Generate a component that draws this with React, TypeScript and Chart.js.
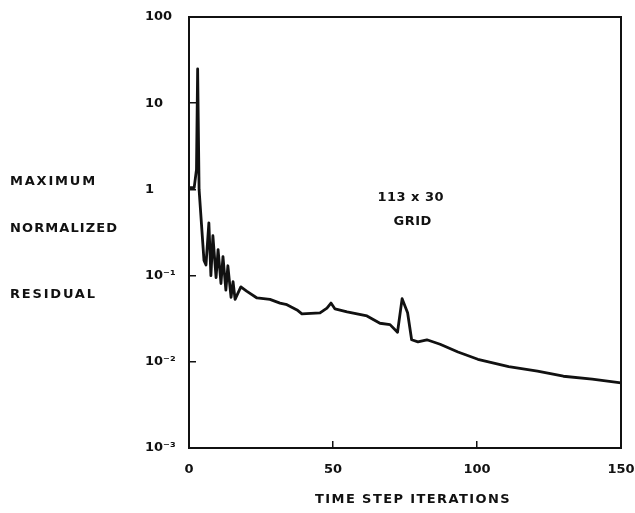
import React, { useEffect, useRef } from "react";
import { Chart, registerables } from "chart.js";

Chart.register(...registerables);

// ---- data ----
const iterations = [
  0, 1.8, 2.6, 3.0, 3.5, 5.2, 5.9, 6.9, 7.6, 8.3, 9.4, 10.1, 11.1, 11.8, 12.8,
  13.5, 14.6, 15.3, 16.0, 18.0, 20.0, 23.6, 28.1, 31.6, 34.0, 37.5, 39.2, 45.5,
  47.9, 49.3, 50.7, 54.9, 61.8, 66.3, 69.8, 72.4, 74.0, 75.9, 77.3, 79.5, 82.6,
  87.2, 93.4, 100.3, 111, 121, 130, 140, 150,
];
const residuals = [
  1.05, 1.05, 1.7, 25, 1.0, 0.15, 0.133, 0.41, 0.1, 0.29, 0.095, 0.2, 0.081,
  0.166, 0.068, 0.13, 0.056, 0.085, 0.053, 0.074, 0.066, 0.055, 0.053, 0.048,
  0.046, 0.04, 0.036, 0.037, 0.042, 0.048, 0.041, 0.038, 0.034, 0.028, 0.027,
  0.022, 0.054, 0.037, 0.018, 0.017, 0.018, 0.016, 0.013, 0.0107, 0.0088,
  0.0078, 0.0068, 0.0063, 0.0057,
];
const xTicks = [0, 50, 100, 150];
const yTicks = [0.001, 0.01, 0.1, 1, 10, 100];
const yTickLabels = ["10⁻³", "10⁻²", "10⁻¹", "1", "10", "100"];
const yTitleLines = ["MAXIMUM", "NORMALIZED", "RESIDUAL"];
const xTitle = "TIME STEP ITERATIONS";
const noteLines = ["113 x 30", "GRID"];

const INK = "#111111";
const FONT = '"DejaVu Sans", "Liberation Sans", sans-serif';

const framePlugin = {
  id: "frameAndTexts",
  afterDraw(chart: any) {
    const { ctx, chartArea: a } = chart;
    ctx.save();
    ctx.strokeStyle = INK;
    ctx.lineWidth = 2;
    ctx.strokeRect(a.left, a.top, a.right - a.left, a.bottom - a.top);

    ctx.fillStyle = INK;
    ctx.font = `bold 13px ${FONT}`;
    ctx.textBaseline = "middle";

    // y title block (horizontal, left side)
    ctx.textAlign = "left";
    const yOffsets = [165, 212, 278];
    const spacings = ["1.8px", "1.1px", "1.8px"];
    yTitleLines.forEach((t, i) => {
      (ctx as any).letterSpacing = spacings[i];
      ctx.fillText(t, 10, a.top + yOffsets[i]);
    });

    // x title
    (ctx as any).letterSpacing = "1.4px";
    ctx.textAlign = "center";
    ctx.fillText(xTitle, (a.left + a.right) / 2 + 8, a.bottom + 52);

    // annotation inside plot
    const xs = chart.scales.x;
    const cx = xs.getPixelForValue(77);
    (ctx as any).letterSpacing = "0.5px";
    ctx.fillText(noteLines[0], cx, a.top + 181);
    ctx.fillText(noteLines[1], cx + 2, a.top + 205);
    ctx.restore();
  },
};

export default function App() {
  const ref = useRef<HTMLCanvasElement | null>(null);

  useEffect(() => {
    if (!ref.current) return;
    const chart = new Chart(ref.current, {
      type: "line",
      data: {
        datasets: [
          {
            data: iterations.map((x, i) => ({ x, y: residuals[i] })),
            borderColor: INK,
            borderWidth: 2.8,
            pointRadius: 0,
            tension: 0,
            borderCapStyle: "round",
            borderJoinStyle: "round",
            fill: false,
          },
        ],
      },
      options: {
        animation: false,
        responsive: false,
        layout: { padding: { left: 145, top: 17, right: 14, bottom: 35 } },
        plugins: {
          legend: { display: false },
          tooltip: { enabled: false },
        },
        scales: {
          x: {
            type: "linear",
            min: 0,
            max: 150,
            afterBuildTicks: (s: any) => {
              s.ticks = xTicks.map((v) => ({ value: v }));
            },
            afterFit: (s: any) => {
              s.height = 30;
              s.paddingLeft = 0;
              s.paddingRight = 0;
            },
            grid: {
              drawOnChartArea: false,
              drawTicks: true,
              tickLength: -7,
              color: INK,
              lineWidth: 1.5,
            },
            border: { display: true, color: INK, width: 2 },
            ticks: {
              color: INK,
              padding: 21,
              maxRotation: 0,
              autoSkip: false,
              font: { family: FONT, size: 13, weight: "bold" },
              callback: (v: any) => String(v),
            },
          },
          y: {
            type: "logarithmic",
            min: 0.001,
            max: 100,
            afterBuildTicks: (s: any) => {
              s.ticks = yTicks.map((v) => ({ value: v }));
            },
            afterFit: (s: any) => {
              s.width = 44;
            },
            grid: {
              drawOnChartArea: false,
              drawTicks: true,
              tickLength: -7,
              color: INK,
              lineWidth: 1.5,
            },
            border: { display: true, color: INK, width: 2 },
            ticks: {
              color: INK,
              crossAlign: "far",
              autoSkip: false,
              font: { family: FONT, size: 13, weight: "bold" },
              callback: (v: any) => {
                const i = yTicks.indexOf(Number(v));
                return i >= 0 ? yTickLabels[i] : "";
              },
            },
          },
        },
      },
      plugins: [framePlugin],
    } as any);
    return () => chart.destroy();
  }, []);

  return (
    <div style={{ position: "fixed", left: 0, top: 0, width: 635, height: 513, background: "#fff" }}>
      <canvas ref={ref} width={635} height={513} style={{ display: "block" }} />
    </div>
  );
}
